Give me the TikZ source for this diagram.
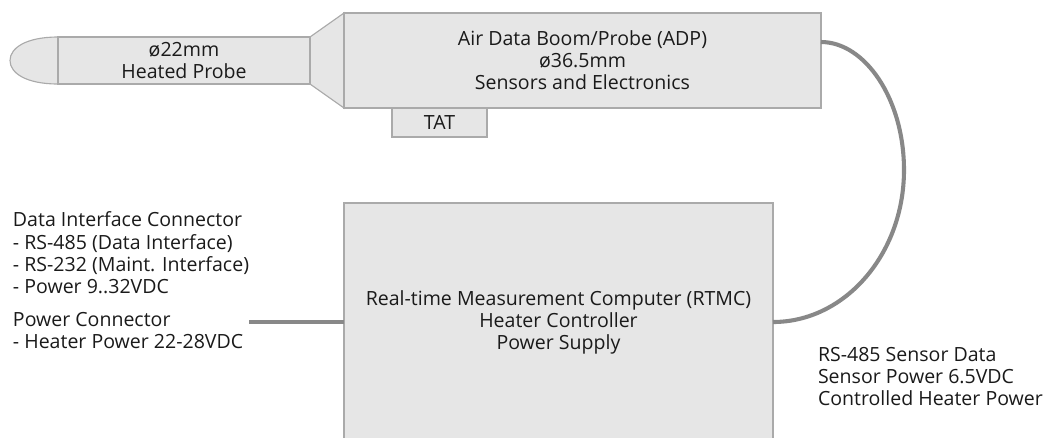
\documentclass[tikz,border=0pt]{standalone}
\usepackage{fontspec}
\setmainfont{Open Sans}
\usetikzlibrary{positioning}

\definecolor{boxfill}{HTML}{E6E6E6}
\definecolor{boxline}{HTML}{AAAAAA}
\definecolor{cablegray}{HTML}{888888}
\definecolor{inkgray}{HTML}{1A1A1A}

\newcommand{\px}{0.025cm}
\newcommand{\labelfont}{\fontsize{13.9}{15.7}\selectfont}

\tikzset{
    part/.style={draw=boxline, fill=boxfill, line width=0.8pt, inner sep=0pt, outer sep=0pt, align=center, text=inkgray, font=\labelfont},
    cable/.style={draw=cablegray, line width=2.9pt},
    caption/.style={inner sep=0pt, outer sep=0pt, align=left, anchor=north west, text=inkgray, font=\labelfont},
}

\begin{document}
\begin{tikzpicture}[x=\px, y=-\px]
    \useasboundingbox (0,0) rectangle (1047,437);
    \clip (0,0) rectangle (1047,437);

    % cone and rounded tip of the probe
    \filldraw [fill=boxfill, draw=boxline, line width=0.8pt] (310,37) -- (344,13) -- (344,108) -- (310,84) -- cycle;
    \filldraw [fill=boxfill, draw=boxline, line width=0.8pt] (58,37) .. controls (26,37) and (10,48) .. (10,60.5) .. controls (10,73) and (26,84) .. (58,84);

    \node [part, minimum width=252*\px, minimum height=47*\px] (probe) at (184,60.5) {ø22mm\\Heated Probe};
    \node [part, minimum width=477*\px, minimum height=95*\px] (adp) at (582.5,60.5) {Air Data Boom/Probe (ADP)\\ø36.5mm\\Sensors and Electronics};
    \node [part, anchor=north west, minimum width=95*\px, minimum height=29*\px] (tat) at ([xshift=48*\px]adp.south west) {TAT};

    \node [part, minimum width=429*\px, minimum height=238*\px] (rtmc) at (558.5,322) {Real-time Measurement Computer (RTMC)\\Heater Controller\\Power Supply};

    % connectors
    \node [caption] (dataconn) at (13,212) {Data Interface Connector\\- RS-485 (Data Interface)\\- RS-232 (Maint. Interface)\\- Power 9..32VDC};
    \node [caption] (pwrconn) at (13,312) {Power Connector\\- Heater Power 22-28VDC};
    \coordinate (pwrin) at (249,322);
    \draw [cable] (pwrin) -- (rtmc.west);

    % cable between boom and computer
    \coordinate (adpout) at (821,42);
    \draw [cable] (adpout) .. controls (865,42) and (904,99) .. (904,170) .. controls (904,254) and (845,322) .. (rtmc.east);
    \node [caption] (cablelbl) at (818,347) {RS-485 Sensor Data\\Sensor Power 6.5VDC\\Controlled Heater Power};
\end{tikzpicture}
\end{document}
